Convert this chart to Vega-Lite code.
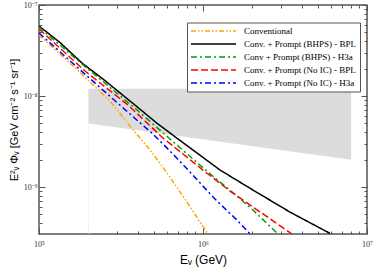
{
  "$schema": "https://vega.github.io/schema/vega-lite/v6.json",
  "width": 328,
  "height": 229,
  "autosize": {"type": "none"},
  "padding": {"left": 39, "top": 5, "right": 7, "bottom": 34},
  "background": "white",
  "config": {
    "view": {"stroke": "#555555", "strokeWidth": 1.5},
    "axis": {"grid": false, "domain": false, "tickColor": "#555555", "tickWidth": 1, "labelFont": "Liberation Serif", "labelFontSize": 8, "labelColor": "#333333", "titleFont": "Liberation Sans", "titleFontWeight": "normal", "titleColor": "#000000", "labelOverlap": false, "labelFlush": false}
  },
  "datasets": {
    "band": [
      {"E": 200000, "lo": 5.0e-9, "hi": 1.2e-8},
      {"E": 8000000, "lo": 2.0e-9, "hi": 1.2e-8}
    ],
    "curves": [
      {"series": "Conventional", "E": 100000, "phi": 4.681e-8},
      {"series": "Conventional", "E": 154500, "phi": 2.304e-8},
      {"series": "Conventional", "E": 204600, "phi": 1.425e-8},
      {"series": "Conventional", "E": 271000, "phi": 8.813e-9},
      {"series": "Conventional", "E": 358900, "phi": 4.681e-9},
      {"series": "Conventional", "E": 475300, "phi": 2.551e-9},
      {"series": "Conventional", "E": 586100, "phi": 1.537e-9},
      {"series": "Conventional", "E": 776200, "phi": 7.382e-10},
      {"series": "Conventional", "E": 1072000, "phi": 3.05e-10},
      {"series": "Conv. + Prompt (BHPS) - BPL", "E": 100000, "phi": 5.877e-8},
      {"series": "Conv. + Prompt (BHPS) - BPL", "E": 134300, "phi": 3.871e-8},
      {"series": "Conv. + Prompt (BHPS) - BPL", "E": 182800, "phi": 2.304e-8},
      {"series": "Conv. + Prompt (BHPS) - BPL", "E": 245500, "phi": 1.537e-8},
      {"series": "Conv. + Prompt (BHPS) - BPL", "E": 384600, "phi": 7.963e-9},
      {"series": "Conv. + Prompt (BHPS) - BPL", "E": 522400, "phi": 5.05e-9},
      {"series": "Conv. + Prompt (BHPS) - BPL", "E": 691800, "phi": 3.455e-9},
      {"series": "Conv. + Prompt (BHPS) - BPL", "E": 1271000, "phi": 1.537e-9},
      {"series": "Conv. + Prompt (BHPS) - BPL", "E": 2018000, "phi": 9.268e-10},
      {"series": "Conv. + Prompt (BHPS) - BPL", "E": 3388000, "phi": 5.313e-10},
      {"series": "Conv. + Prompt (BHPS) - BPL", "E": 5943000, "phi": 3.1e-10},
      {"series": "Conv + Prompt (BHPS) - H3a", "E": 100000, "phi": 5.73e-8},
      {"series": "Conv + Prompt (BHPS) - H3a", "E": 182800, "phi": 2.247e-8},
      {"series": "Conv + Prompt (BHPS) - H3a", "E": 396300, "phi": 7.019e-9},
      {"series": "Conv + Prompt (BHPS) - H3a", "E": 629500, "phi": 3.369e-9},
      {"series": "Conv + Prompt (BHPS) - H3a", "E": 1072000, "phi": 1.462e-9},
      {"series": "Conv + Prompt (BHPS) - H3a", "E": 1611000, "phi": 7.963e-10},
      {"series": "Conv + Prompt (BHPS) - H3a", "E": 2018000, "phi": 5.588e-10},
      {"series": "Conv + Prompt (BHPS) - H3a", "E": 2864000, "phi": 3.05e-10},
      {"series": "Conv. + Prompt (No IC) - BPL", "E": 100000, "phi": 5.449e-8},
      {"series": "Conv. + Prompt (No IC) - BPL", "E": 190800, "phi": 1.883e-8},
      {"series": "Conv. + Prompt (No IC) - BPL", "E": 349100, "phi": 7.963e-9},
      {"series": "Conv. + Prompt (No IC) - BPL", "E": 570200, "phi": 3.455e-9},
      {"series": "Conv. + Prompt (No IC) - BPL", "E": 1000000, "phi": 1.537e-9},
      {"series": "Conv. + Prompt (No IC) - BPL", "E": 1462000, "phi": 9.036e-10},
      {"series": "Conv. + Prompt (No IC) - BPL", "E": 2018000, "phi": 6.029e-10},
      {"series": "Conv. + Prompt (No IC) - BPL", "E": 3491000, "phi": 3.05e-10},
      {"series": "Conv. + Prompt (No IC) - H3a", "E": 100000, "phi": 4.924e-8},
      {"series": "Conv. + Prompt (No IC) - H3a", "E": 196300, "phi": 1.659e-8},
      {"series": "Conv. + Prompt (No IC) - H3a", "E": 358900, "phi": 6.341e-9},
      {"series": "Conv. + Prompt (No IC) - H3a", "E": 495500, "phi": 3.822e-9},
      {"series": "Conv. + Prompt (No IC) - H3a", "E": 629500, "phi": 2.487e-9},
      {"series": "Conv. + Prompt (No IC) - H3a", "E": 833700, "phi": 1.462e-9},
      {"series": "Conv. + Prompt (No IC) - H3a", "E": 1183000, "phi": 7.382e-10},
      {"series": "Conv. + Prompt (No IC) - H3a", "E": 1611000, "phi": 4.34e-10},
      {"series": "Conv. + Prompt (No IC) - H3a", "E": 1936000, "phi": 3.05e-10}
    ]
  },
  "layer": [
    {
      "data": {"name": "band"},
      "mark": {"type": "area", "color": "#dcdcdc", "opacity": 1},
      "encoding": {
        "x": {
          "field": "E", "type": "quantitative",
          "scale": {"type": "log", "domain": [100000, 10000000], "nice": false},
          "axis": {
            "orient": "bottom",
            "values": [100000, 200000, 300000, 400000, 500000, 600000, 700000, 800000, 900000, 1000000, 2000000, 3000000, 4000000, 5000000, 6000000, 7000000, 8000000, 9000000, 10000000],
            "labelExpr": "datum.value == 100000 ? '10⁵' : datum.value == 1000000 ? '10⁶' : datum.value == 10000000 ? '10⁷' : ''",
            "tickSize": {"condition": {"test": "datum.value == 100000 || datum.value == 1000000 || datum.value == 10000000", "value": -6}, "value": -3},
            "labelPadding": 12,
            "title": "Eᵥ (GeV)",
            "titleFontSize": 12,
            "titlePadding": 3
          }
        },
        "y": {
          "field": "hi", "type": "quantitative",
          "scale": {"type": "log", "domain": [3.05e-10, 1e-7], "nice": false},
          "axis": {
            "orient": "left",
            "values": [3e-10, 4e-10, 5e-10, 6e-10, 7e-10, 8e-10, 9e-10, 1e-9, 2e-9, 3e-9, 4e-9, 5e-9, 6e-9, 7e-9, 8e-9, 9e-9, 1e-8, 2e-8, 3e-8, 4e-8, 5e-8, 6e-8, 7e-8, 8e-8, 9e-8, 1e-7],
            "labelExpr": "datum.value == 1e-7 ? '10⁻⁷' : datum.value == 1e-8 ? '10⁻⁸' : datum.value == 1e-9 ? '10⁻⁹' : ''",
            "tickSize": {"condition": {"test": "datum.value == 1e-7 || datum.value == 1e-8 || datum.value == 1e-9", "value": -6}, "value": -3},
            "labelPadding": 8,
            "title": "E²ᵥ Φᵥ [GeV cm⁻² s⁻¹ sr⁻¹]",
            "titleFontSize": 11,
            "titlePadding": 4
          }
        },
        "y2": {"field": "lo"}
      }
    },
    {
      "data": {"name": "band"},
      "transform": [{"filter": "datum.E < 1000000"}],
      "mark": {"type": "rule", "color": "#f3f3f3", "strokeWidth": 1},
      "encoding": {
        "x": {"field": "E", "type": "quantitative", "axis": null},
        "y": {"field": "lo", "type": "quantitative", "axis": null},
        "y2": {"datum": 3.05e-10}
      }
    },
    {
      "data": {"name": "curves"},
      "mark": {"type": "line", "strokeWidth": 1.5, "clip": true},
      "encoding": {
        "x": {
          "field": "E", "type": "quantitative",
          "axis": {
            "orient": "top",
            "values": [100000, 200000, 300000, 400000, 500000, 600000, 700000, 800000, 900000, 1000000, 2000000, 3000000, 4000000, 5000000, 6000000, 7000000, 8000000, 9000000, 10000000],
            "labels": false,
            "title": null,
            "tickSize": {"condition": {"test": "datum.value == 100000 || datum.value == 1000000 || datum.value == 10000000", "value": -6}, "value": -3}
          }
        },
        "y": {
          "field": "phi", "type": "quantitative",
          "axis": {
            "orient": "right",
            "values": [3e-10, 4e-10, 5e-10, 6e-10, 7e-10, 8e-10, 9e-10, 1e-9, 2e-9, 3e-9, 4e-9, 5e-9, 6e-9, 7e-9, 8e-9, 9e-9, 1e-8, 2e-8, 3e-8, 4e-8, 5e-8, 6e-8, 7e-8, 8e-8, 9e-8, 1e-7],
            "labels": false,
            "title": null,
            "tickSize": {"condition": {"test": "datum.value == 1e-7 || datum.value == 1e-8 || datum.value == 1e-9", "value": -6}, "value": -3}
          }
        },
        "color": {
          "field": "series", "type": "nominal",
          "scale": {
            "domain": ["Conventional", "Conv. + Prompt (BHPS) - BPL", "Conv + Prompt (BHPS) - H3a", "Conv. + Prompt (No IC) - BPL", "Conv. + Prompt (No IC) - H3a"],
            "range": ["#ffa500", "#000000", "#00a000", "#ff0000", "#0000ff"]
          },
          "legend": {"title": null, "orient": "none", "legendX": 148, "legendY": 17.5, "symbolType": "M-1,0H9", "symbolSize": 81, "symbolStrokeWidth": 1.6, "labelFont": "Liberation Serif", "labelFontSize": 9, "labelColor": "#000000", "strokeColor": "#555555", "fillColor": "white", "padding": 3, "rowPadding": 2, "labelOffset": 43, "labelLimit": 250}
        },
        "strokeDash": {
          "field": "series", "type": "nominal",
          "scale": {
            "domain": ["Conventional", "Conv. + Prompt (BHPS) - BPL", "Conv + Prompt (BHPS) - H3a", "Conv. + Prompt (No IC) - BPL", "Conv. + Prompt (No IC) - H3a"],
            "range": [[5, 2, 1.5, 2, 1.5, 2], [1, 0], [6, 3, 2, 3], [7, 3], [6, 3, 2, 3]]
          },
          "legend": {"title": null, "orient": "none", "legendX": 148, "legendY": 17.5, "symbolType": "M-1,0H9", "symbolSize": 81, "symbolStrokeWidth": 1.6, "labelFont": "Liberation Serif", "labelFontSize": 9, "labelColor": "#000000", "strokeColor": "#555555", "fillColor": "white", "padding": 3, "rowPadding": 2, "labelOffset": 43, "labelLimit": 250}
        }
      }
    }
  ],
  "resolve": {"axis": {"x": "independent", "y": "independent"}}
}
